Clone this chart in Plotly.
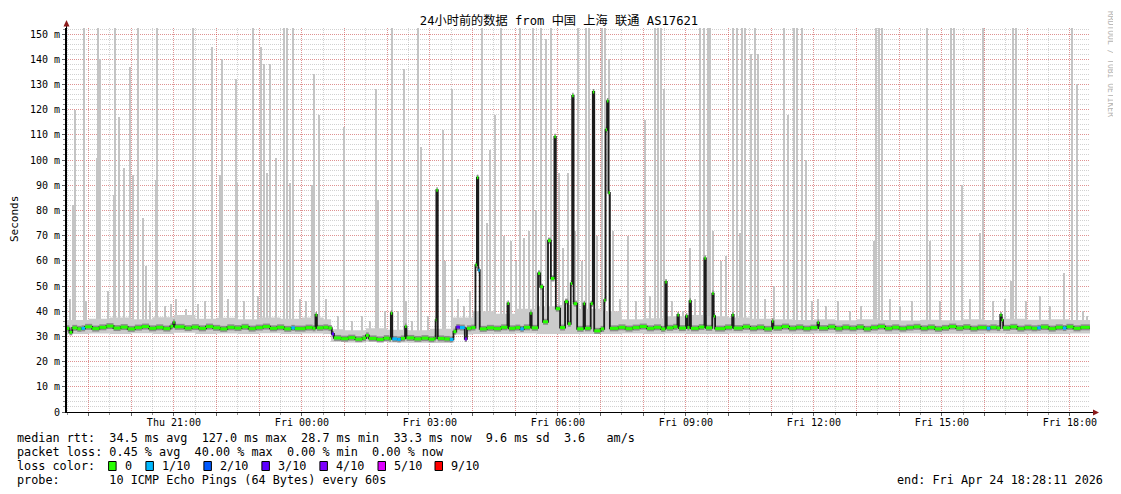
import plotly.graph_objects as go

# ---------------- data ----------------
START = "2026-04-23 18:28:11"
END = "2026-04-24 18:28:11"
DAYS = {"Thu": "2026-04-23", "Fri": "2026-04-24"}

# median round-trip time (ms) with number of lost pings (of 10)
median_time = [
    "Thu 18:28", "Thu 18:33", "Thu 18:37", "Thu 18:44", "Thu 18:50", "Thu 18:55", "Thu 19:05", "Thu 19:15",
    "Thu 19:25", "Thu 19:35", "Thu 19:45", "Thu 19:55", "Thu 20:05", "Thu 20:15", "Thu 20:25", "Thu 20:35",
    "Thu 20:45", "Thu 20:55", "Thu 20:59", "Thu 21:01", "Thu 21:15", "Thu 21:25", "Thu 21:35", "Thu 21:45",
    "Thu 21:55", "Thu 22:05", "Thu 22:15", "Thu 22:25", "Thu 22:35", "Thu 22:45", "Thu 22:55", "Thu 23:05",
    "Thu 23:15", "Thu 23:25", "Thu 23:35", "Thu 23:45", "Thu 23:50", "Fri 00:05", "Fri 00:15", "Fri 00:19",
    "Fri 00:21", "Fri 00:30", "Fri 00:37", "Fri 00:42", "Fri 00:45", "Fri 00:55", "Fri 01:05", "Fri 01:15",
    "Fri 01:25", "Fri 01:30", "Fri 01:34", "Fri 01:45", "Fri 01:55", "Fri 02:03", "Fri 02:05", "Fri 02:07",
    "Fri 02:14", "Fri 02:19", "Fri 02:25", "Fri 02:27", "Fri 02:38", "Fri 02:48", "Fri 02:58", "Fri 03:06",
    "Fri 03:08", "Fri 03:09", "Fri 03:11", "Fri 03:20", "Fri 03:28", "Fri 03:33", "Fri 03:37", "Fri 03:42",
    "Fri 03:49", "Fri 03:52", "Fri 03:58", "Fri 04:04", "Fri 04:06", "Fri 04:08", "Fri 04:10", "Fri 04:20",
    "Fri 04:30", "Fri 04:40", "Fri 04:49", "Fri 04:51", "Fri 05:00", "Fri 05:07", "Fri 05:12", "Fri 05:21",
    "Fri 05:23", "Fri 05:32", "Fri 05:35", "Fri 05:39", "Fri 05:46", "Fri 05:50", "Fri 05:55", "Fri 05:57",
    "Fri 06:03", "Fri 06:10", "Fri 06:14", "Fri 06:18", "Fri 06:20", "Fri 06:22", "Fri 06:27", "Fri 06:36",
    "Fri 06:38", "Fri 06:46", "Fri 06:49", "Fri 06:51", "Fri 07:00", "Fri 07:05", "Fri 07:07", "Fri 07:09",
    "Fri 07:11", "Fri 07:13", "Fri 07:25", "Fri 07:35", "Fri 07:45", "Fri 07:55", "Fri 08:05", "Fri 08:15",
    "Fri 08:25", "Fri 08:31", "Fri 08:33", "Fri 08:42", "Fri 08:48", "Fri 08:50", "Fri 09:00", "Fri 09:02",
    "Fri 09:05", "Fri 09:07", "Fri 09:18", "Fri 09:26", "Fri 09:28", "Fri 09:37", "Fri 09:39", "Fri 09:41",
    "Fri 09:55", "Fri 10:05", "Fri 10:07", "Fri 10:20", "Fri 10:30", "Fri 10:40", "Fri 10:50", "Fri 11:01",
    "Fri 11:03", "Fri 11:15", "Fri 11:25", "Fri 11:35", "Fri 11:45", "Fri 11:55", "Fri 12:05", "Fri 12:07",
    "Fri 12:20", "Fri 12:30", "Fri 12:40", "Fri 12:50", "Fri 13:00", "Fri 13:10", "Fri 13:20", "Fri 13:30",
    "Fri 13:40", "Fri 13:50", "Fri 14:00", "Fri 14:10", "Fri 14:20", "Fri 14:30", "Fri 14:40", "Fri 14:50",
    "Fri 15:00", "Fri 15:10", "Fri 15:20", "Fri 15:30", "Fri 15:40", "Fri 15:50", "Fri 16:03", "Fri 16:08",
    "Fri 16:17", "Fri 16:22", "Fri 16:24", "Fri 16:26", "Fri 16:36", "Fri 16:46", "Fri 16:56", "Fri 17:06",
    "Fri 17:14", "Fri 17:19", "Fri 17:30", "Fri 17:40", "Fri 17:50", "Fri 17:55", "Fri 18:05", "Fri 18:15",
    "Fri 18:28",
]
median_ms = [
    33.2, 31.6, 33.4, 33.0, 33.2, 33.8, 33.1, 33.6,
    34.1, 33.3, 33.7, 33.0, 33.5, 33.9, 33.2, 33.6,
    33.1, 34.0, 35.6, 33.8, 33.3, 33.7, 33.2, 33.9,
    33.4, 33.0, 33.6, 33.3, 33.8, 33.1, 33.5, 33.9,
    33.2, 33.6, 33.0, 33.4, 33.1, 33.5, 33.2, 38.5,
    33.4, 33.6, 33.3, 31.0, 29.4, 29.1, 29.5, 28.9,
    29.3, 30.4, 29.2, 28.8, 29.3, 29.0, 39.2, 29.0,
    28.8, 29.2, 33.9, 29.4, 29.0, 29.3, 28.9, 29.2,
    36.5, 88.0, 29.2, 29.0, 28.8, 31.9, 33.7, 33.5,
    29.0, 33.2, 33.5, 58.3, 93.0, 56.3, 33.0, 33.4,
    33.1, 33.6, 43.1, 33.2, 33.5, 33.0, 33.6, 39.2,
    33.4, 55.0, 49.7, 35.8, 68.0, 53.0, 109.2, 41.0,
    33.5, 43.8, 35.0, 51.0, 125.5, 43.0, 33.0, 43.0,
    33.2, 43.0, 127.0, 32.2, 33.0, 44.4, 112.0, 123.4,
    87.0, 33.2, 33.6, 33.1, 33.5, 33.9, 33.2, 33.6,
    33.0, 51.6, 33.4, 33.8, 38.5, 33.3, 38.0, 33.5,
    44.0, 33.2, 33.7, 61.0, 33.4, 47.0, 38.0, 33.1,
    33.6, 38.5, 33.3, 33.8, 33.2, 33.6, 33.0, 36.0,
    33.4, 33.9, 33.2, 33.6, 33.1, 33.5, 35.5, 33.3,
    33.8, 33.1, 33.6, 33.2, 33.7, 33.0, 33.5, 33.9,
    33.2, 33.6, 33.1, 33.5, 33.8, 33.2, 33.6, 33.0,
    33.4, 33.9, 33.3, 33.7, 33.1, 33.5, 33.2, 33.6,
    33.3, 38.5, 36.5, 33.4, 33.8, 33.1, 33.5, 33.2,
    33.4, 33.7, 33.1, 33.6, 33.3, 33.8, 33.2, 33.6,
    33.3,
]
median_loss = [
    0, 0, 0, 0, 1, 0, 0, 0,
    0, 0, 0, 0, 0, 0, 0, 0,
    0, 0, 0, 0, 0, 0, 0, 0,
    0, 0, 0, 0, 0, 0, 0, 0,
    0, 0, 0, 1, 0, 0, 0, 0,
    0, 0, 0, 3, 0, 0, 0, 0,
    0, 0, 0, 0, 0, 0, 0, 1,
    1, 0, 0, 0, 0, 0, 0, 0,
    0, 0, 0, 0, 1, 0, 3, 1,
    4, 0, 0, 0, 0, 1, 0, 0,
    0, 0, 0, 0, 0, 1, 0, 0,
    0, 0, 0, 0, 0, 0, 0, 0,
    0, 0, 0, 0, 0, 0, 0, 0,
    0, 0, 0, 0, 0, 0, 0, 0,
    0, 0, 0, 0, 0, 0, 0, 0,
    0, 0, 0, 0, 0, 0, 0, 0,
    0, 0, 0, 0, 0, 0, 0, 0,
    0, 0, 0, 0, 0, 0, 0, 0,
    0, 0, 0, 0, 0, 0, 0, 0,
    0, 0, 0, 0, 0, 0, 0, 0,
    0, 0, 0, 0, 0, 0, 0, 0,
    0, 0, 0, 0, 0, 0, 1, 0,
    0, 0, 0, 0, 0, 0, 0, 0,
    1, 0, 0, 0, 1, 0, 0, 0,
    0,
]

# smoke band (spread of the 10 pings) around the median
smoke_time = [
    "Thu 18:28", "Thu 19:00", "Thu 19:30", "Thu 20:00", "Thu 20:30", "Thu 21:00", "Thu 21:30", "Thu 22:00",
    "Thu 22:30", "Thu 23:00", "Thu 23:30", "Fri 00:00", "Fri 00:30", "Fri 00:41", "Fri 01:00", "Fri 01:30",
    "Fri 02:00", "Fri 02:30", "Fri 03:00", "Fri 03:31", "Fri 04:00", "Fri 04:30", "Fri 05:00", "Fri 05:30",
    "Fri 06:00", "Fri 06:30", "Fri 07:00", "Fri 07:30", "Fri 08:00", "Fri 08:30", "Fri 09:00", "Fri 09:30",
    "Fri 10:00", "Fri 10:30", "Fri 11:00", "Fri 11:30", "Fri 12:00", "Fri 12:30", "Fri 13:00", "Fri 13:30",
    "Fri 14:00", "Fri 14:30", "Fri 15:00", "Fri 15:30", "Fri 16:00", "Fri 16:30", "Fri 17:00", "Fri 17:30",
    "Fri 18:00", "Fri 18:28",
]
smoke_low = [
    31.0, 31.2, 31.0, 31.3, 31.0, 31.5, 31.0, 31.2,
    31.0, 31.3, 31.0, 31.2, 31.0, 27.8, 27.6, 27.9,
    27.6, 27.5, 27.4, 30.8, 31.0, 31.0, 31.2, 31.0,
    31.0, 31.0, 31.0, 31.2, 31.0, 31.2, 31.0, 31.0,
    31.2, 31.0, 31.1, 31.0, 31.2, 31.0, 31.1, 31.0,
    31.2, 31.0, 31.1, 31.0, 31.2, 31.0, 31.1, 31.0,
    31.2, 31.2,
]
smoke_high = [
    36.5, 37.0, 37.5, 36.8, 37.6, 38.5, 37.0, 37.4,
    36.8, 37.5, 37.0, 37.5, 36.8, 32.8, 32.4, 33.2,
    32.6, 32.4, 33.0, 37.5, 40.0, 39.0, 41.0, 42.0,
    42.5, 41.0, 40.0, 36.8, 37.2, 38.0, 38.5, 38.0,
    37.5, 37.0, 36.8, 36.5, 36.8, 36.4, 36.8, 36.5,
    36.3, 36.6, 36.4, 36.8, 36.5, 37.0, 36.6, 36.8,
    36.5, 36.5,
]

# outlier pings (top of the smoke, ms)
spike_time = [
    "Thu 18:34", "Thu 18:38", "Thu 18:41", "Thu 18:53", "Thu 18:56", "Thu 19:12", "Thu 19:14", "Thu 19:16",
    "Thu 19:27", "Thu 19:36", "Thu 19:37", "Thu 19:43", "Thu 19:50", "Thu 19:58", "Thu 20:02", "Thu 20:09",
    "Thu 20:16", "Thu 20:21", "Thu 20:26", "Thu 20:35", "Thu 20:37", "Thu 20:47", "Thu 20:56", "Thu 21:03",
    "Thu 21:17", "Thu 21:27", "Thu 21:34", "Thu 21:44", "Thu 21:53", "Thu 22:05", "Thu 22:08", "Thu 22:16",
    "Thu 22:27", "Thu 22:29", "Thu 22:38", "Thu 22:51", "Thu 22:58", "Thu 23:02", "Thu 23:07", "Thu 23:11",
    "Thu 23:15", "Thu 23:23", "Thu 23:35", "Thu 23:39", "Thu 23:43", "Thu 23:47", "Thu 23:57", "Fri 00:06",
    "Fri 00:14", "Fri 00:17", "Fri 00:24", "Fri 00:34", "Fri 00:51", "Fri 01:00", "Fri 01:10", "Fri 01:24",
    "Fri 01:36", "Fri 01:44", "Fri 01:47", "Fri 01:57", "Fri 02:07", "Fri 02:15", "Fri 02:23", "Fri 02:26",
    "Fri 02:35", "Fri 02:43", "Fri 02:47", "Fri 02:57", "Fri 03:18", "Fri 03:22", "Fri 03:31", "Fri 03:39",
    "Fri 03:48", "Fri 03:56", "Fri 04:14", "Fri 04:20", "Fri 04:24", "Fri 04:31", "Fri 04:40", "Fri 04:45",
    "Fri 04:54", "Fri 05:01", "Fri 05:07", "Fri 05:12", "Fri 05:19", "Fri 05:25", "Fri 05:30", "Fri 05:36",
    "Fri 05:44", "Fri 05:50", "Fri 06:01", "Fri 06:07", "Fri 06:15", "Fri 06:24", "Fri 06:28", "Fri 06:34",
    "Fri 06:39", "Fri 06:44", "Fri 06:55", "Fri 07:02", "Fri 07:06", "Fri 07:12", "Fri 07:17", "Fri 07:27",
    "Fri 07:38", "Fri 07:50", "Fri 08:02", "Fri 08:09", "Fri 08:16", "Fri 08:21", "Fri 08:25", "Fri 08:29",
    "Fri 08:40", "Fri 08:56", "Fri 09:06", "Fri 09:13", "Fri 09:20", "Fri 09:25", "Fri 09:31", "Fri 09:34",
    "Fri 09:38", "Fri 09:49", "Fri 09:56", "Fri 10:06", "Fri 10:12", "Fri 10:16", "Fri 10:19", "Fri 10:23",
    "Fri 10:31", "Fri 10:37", "Fri 10:41", "Fri 10:52", "Fri 11:04", "Fri 11:18", "Fri 11:23", "Fri 11:32",
    "Fri 11:37", "Fri 11:44", "Fri 11:49", "Fri 11:57", "Fri 12:06", "Fri 12:17", "Fri 12:34", "Fri 12:51",
    "Fri 13:07", "Fri 13:24", "Fri 13:27", "Fri 13:31", "Fri 13:36", "Fri 13:47", "Fri 14:01", "Fri 14:18",
    "Fri 14:39", "Fri 14:43", "Fri 14:57", "Fri 15:13", "Fri 15:17", "Fri 15:28", "Fri 15:39", "Fri 15:53",
    "Fri 15:58", "Fri 16:12", "Fri 16:29", "Fri 16:37", "Fri 16:40", "Fri 16:44", "Fri 16:58", "Fri 17:18",
    "Fri 17:32", "Fri 17:52", "Fri 18:03", "Fri 18:10", "Fri 18:18", "Fri 18:24",
]
spike_ms = [
    45, 82, 120, 160, 44, 101, 160, 140,
    48, 86, 160, 117, 97, 137, 94, 160,
    77, 58, 44, 92, 160, 42, 43, 45,
    41, 160, 43, 44, 145, 94, 140, 45,
    132, 91, 44, 160, 46, 145, 138, 95,
    138, 101, 160, 160, 91, 160, 45, 44,
    90, 134, 118, 45, 38, 113, 36, 38,
    36, 128, 84, 40, 160, 40, 136, 44,
    36, 160, 105, 38, 112, 60, 128, 45,
    42, 48, 160, 75, 104, 118, 160, 70,
    68, 60, 160, 69, 72, 160, 80, 160,
    148, 160, 95, 65, 95, 72, 160, 60,
    160, 160, 70, 160, 160, 140, 72, 45,
    70, 44, 116, 46, 160, 160, 160, 128,
    44, 40, 65, 45, 160, 160, 160, 160,
    72, 60, 62, 160, 160, 71, 160, 160,
    142, 160, 142, 45, 50, 160, 118, 160,
    160, 160, 100, 44, 45, 42, 44, 40,
    42, 68, 160, 160, 160, 45, 42, 44,
    160, 68, 44, 160, 160, 90, 45, 71,
    160, 44, 45, 52, 160, 160, 44, 46,
    42, 55, 160, 130, 40, 38,
]
SPIKE_BASE_MS = 32

# loss colour legend (lost pings out of 10 -> colour)
loss_levels = [0, 1, 2, 3, 4, 5, 9]
loss_labels = ["0", "1/10", "2/10", "3/10", "4/10", "5/10", "9/10"]
loss_colors = ["#26ff00", "#00b8ff", "#0059ff", "#5e00ff", "#7e00ff", "#dd00ff", "#ff0000"]

# statistics text
rtt_avg, rtt_max, rtt_min, rtt_now, rtt_sd, rtt_ams = 34.5, 127.0, 28.7, 33.3, 9.6, 3.6
loss_avg, loss_max, loss_min, loss_now = 0.45, 40.00, 0.00, 0.00

y_tick_vals = [0, 10, 20, 30, 40, 50, 60, 70, 80, 90, 100, 110, 120, 130, 140, 150]
y_tick_text = ["0", "10 m", "20 m", "30 m", "40 m", "50 m", "60 m", "70 m", "80 m", "90 m",
               "100 m", "110 m", "120 m", "130 m", "140 m", "150 m"]
x_labels = ["Thu 21:00", "Fri 00:00", "Fri 03:00", "Fri 06:00", "Fri 09:00", "Fri 12:00", "Fri 15:00", "Fri 18:00"]
x_hours = ["Thu 19", "Thu 20", "Thu 21", "Thu 22", "Thu 23", "Fri 00", "Fri 01", "Fri 02", "Fri 03",
           "Fri 04", "Fri 05", "Fri 06", "Fri 07", "Fri 08", "Fri 09", "Fri 10", "Fri 11", "Fri 12",
           "Fri 13", "Fri 14", "Fri 15", "Fri 16", "Fri 17", "Fri 18"]

TITLE = "24小时前的数据 from 中国 上海 联通 AS17621"


def ts(s):
    day, hm = s.split()
    return f"{DAYS[day]} {hm}:00"


# ---------------- figure geometry ----------------
# the page places the figure 8px in from the top-left corner of the window
OFF = 8
PAGE_W, PAGE_H = 1121, 494
W, H = PAGE_W - OFF, PAGE_H - OFF
L, R, T, B = 66 - OFF, 31, 28 - OFF, 82
PW, PH = W - L - R, H - T - B


def px(x):   # page pixel -> paper
    return (x - OFF - L) / PW


def py(y):
    return (H - B - (y - OFF)) / PH


MONO = "DejaVu Sans Mono, monospace"
TFONT = "DejaVu Sans Mono, Noto Sans CJK SC, monospace"

fig = go.Figure()

# outlier pings
fig.add_trace(go.Bar(
    x=[ts(t) for t in spike_time],
    y=[v - SPIKE_BASE_MS for v in spike_ms],
    base=SPIKE_BASE_MS,
    width=110000,
    marker=dict(color="#c4c4c4", line=dict(width=0)),
    hoverinfo="skip",
))

# smoke band
st = [ts(t) for t in smoke_time] + [END]
fig.add_trace(go.Scatter(x=st, y=smoke_low + [smoke_low[-1]], mode="lines",
                         line=dict(width=0, shape="hv"), hoverinfo="skip"))
fig.add_trace(go.Scatter(x=st, y=smoke_high + [smoke_high[-1]], mode="lines",
                         line=dict(width=0, shape="hv"), fill="tonexty",
                         fillcolor="#cbcbcb", hoverinfo="skip"))

mt = [ts(t) for t in median_time] + [END]
mv = median_ms + [median_ms[-1]]


def flat_pieces(select):
    xs, ys = [], []
    for i, (v, l) in enumerate(zip(median_ms, median_loss)):
        if select(l):
            xs += [mt[i], mt[i + 1], None]
            ys += [v, v, None]
    return xs, ys


# darker inner smoke around the median (horizontal pieces)
gx, gy = flat_pieces(lambda l: True)
fig.add_trace(go.Scatter(x=gx, y=gy, mode="lines",
                         line=dict(width=6, color="#8c8c8c"), hoverinfo="skip"))
# median line
fig.add_trace(go.Scatter(x=mt, y=mv, mode="lines",
                         line=dict(width=1.8, color="#1c1c1c", shape="hv"), hoverinfo="skip"))

# loss-coloured median band (horizontal pieces only)
for lvl, col in zip(loss_levels, loss_colors):
    xs, ys = flat_pieces(lambda l, lvl=lvl: l == lvl)
    if xs:
        fig.add_trace(go.Scatter(x=xs, y=ys, mode="lines",
                                 line=dict(width=3, color=col), hoverinfo="skip"))

# ---------------- axes ----------------
tickvals = [ts(h + ":00") for h in x_hours]
ticktext = [h + ":00" if (h + ":00") in x_labels else "" for h in x_hours]

GRID_MAJOR = "rgba(255,0,0,0.30)"
GRID_MINOR = "rgba(140,140,140,0.40)"

fig.update_xaxes(
    type="date", range=[START, END],
    tickmode="array", tickvals=tickvals, ticktext=ticktext,
    showgrid=True, gridcolor=GRID_MAJOR, griddash="1px,1px", gridwidth=1,
    ticks="outside", ticklen=3, tickcolor="#606060", ticklabelstandoff=-2,
    minor=dict(tickmode="linear", tick0="2026-04-23 18:30:00", dtick=1800000,
               showgrid=True, gridcolor=GRID_MINOR, griddash="1px,1px",
               ticks="outside", ticklen=2, tickcolor="#909090"),
    showline=True, linecolor="#000000", linewidth=1, zeroline=False,
    tickfont=dict(family=MONO, size=10, color="#000000"),
)
fig.update_yaxes(
    range=[0, 152.4],
    tickmode="array", tickvals=y_tick_vals, ticktext=y_tick_text,
    showgrid=True, gridcolor=GRID_MAJOR, griddash="1px,1px", gridwidth=1,
    ticks="outside", ticklen=3, tickcolor="#606060",
    minor=dict(tickmode="linear", tick0=0, dtick=2,
               showgrid=True, gridcolor=GRID_MINOR, griddash="1px,1px",
               ticks="outside", ticklen=2, tickcolor="#909090"),
    showline=True, linecolor="#000000", linewidth=1, zeroline=False,
    tickfont=dict(family=MONO, size=10, color="#000000"),
)

# ---------------- decorations ----------------
shapes = []
shapes.append(dict(type="line", xref="paper", yref="paper", x0=px(66.5), x1=px(66.5), y0=py(412), y1=py(25),
                   line=dict(color="#000000", width=1)))
shapes.append(dict(type="path", xref="paper", yref="paper",
                   path=f"M {px(63.5)},{py(26.5)} L {px(69.5)},{py(26.5)} L {px(66.5)},{py(20)} Z",
                   fillcolor="#8b1a1a", line=dict(width=0)))
shapes.append(dict(type="line", xref="paper", yref="paper", x0=px(1090), x1=px(1094), y0=py(412.5), y1=py(412.5),
                   line=dict(color="#000000", width=1)))
shapes.append(dict(type="path", xref="paper", yref="paper",
                   path=f"M {px(1093)},{py(409.5)} L {px(1093)},{py(415.5)} L {px(1099)},{py(412.5)} Z",
                   fillcolor="#8b1a1a", line=dict(width=0)))

annotations = []


def text(x, y, s, size=11.8, anchor="left", color="#000000", angle=0, family=MONO):
    annotations.append(dict(x=px(x), y=py(y), xref="paper", yref="paper", text=s, showarrow=False,
                            xanchor=anchor, yanchor="middle", textangle=angle, borderpad=0,
                            font=dict(family=family, size=size, color=color)))


text(14, 219, "Seconds", size=11, anchor="center", angle=-90)
text(1111, 64, "RRDTOOL / TOBI OETIKER", size=8, anchor="center", angle=90, color="#b4b4b4")

line1 = (f"median rtt:  {rtt_avg:.1f} ms avg  {rtt_max:.1f} ms max  {rtt_min:.1f} ms min  "
         f"{rtt_now:.1f} ms now  {rtt_sd:.1f} ms sd  {rtt_ams:.1f}   am/s")
line2 = (f"packet loss: {loss_avg:.2f} % avg  {loss_max:.2f} % max  {loss_min:.2f} % min  "
         f"{loss_now:.2f} % now")
text(16, 438, line1)
text(16, 452, line2)
text(16, 466, "loss color:")
text(16, 480, "probe:       10 ICMP Echo Pings (64 Bytes) every 60s")
text(1104, 480, "end: Fri Apr 24 18:28:11 2026", anchor="right")

box_x = [108.6, 145.9, 203.9, 261.9, 319.9, 378.0, 435.0]
for bx, col, lab in zip(box_x, loss_colors, loss_labels):
    shapes.append(dict(type="rect", xref="paper", yref="paper",
                       x0=px(bx), x1=px(bx + 7.5), y0=py(470.5), y1=py(461.5),
                       fillcolor=col, line=dict(color="#000000", width=1)))
    text(bx + 15, 466, lab)

fig.update_layout(
    width=W, height=H,
    margin=dict(l=L, r=R, t=T, b=B, pad=0, autoexpand=False),
    paper_bgcolor="#ffffff", plot_bgcolor="#ffffff",
    showlegend=False, barmode="overlay", bargap=0,
    title=dict(text=TITLE, x=(559 - OFF) / W, xref="container", xanchor="center",
               y=1 - (21 - OFF) / H, yref="container", yanchor="middle",
               font=dict(family=TFONT, size=12.2, color="#000000")),
    shapes=shapes, annotations=annotations,
)

fig.write_html("out.html")
